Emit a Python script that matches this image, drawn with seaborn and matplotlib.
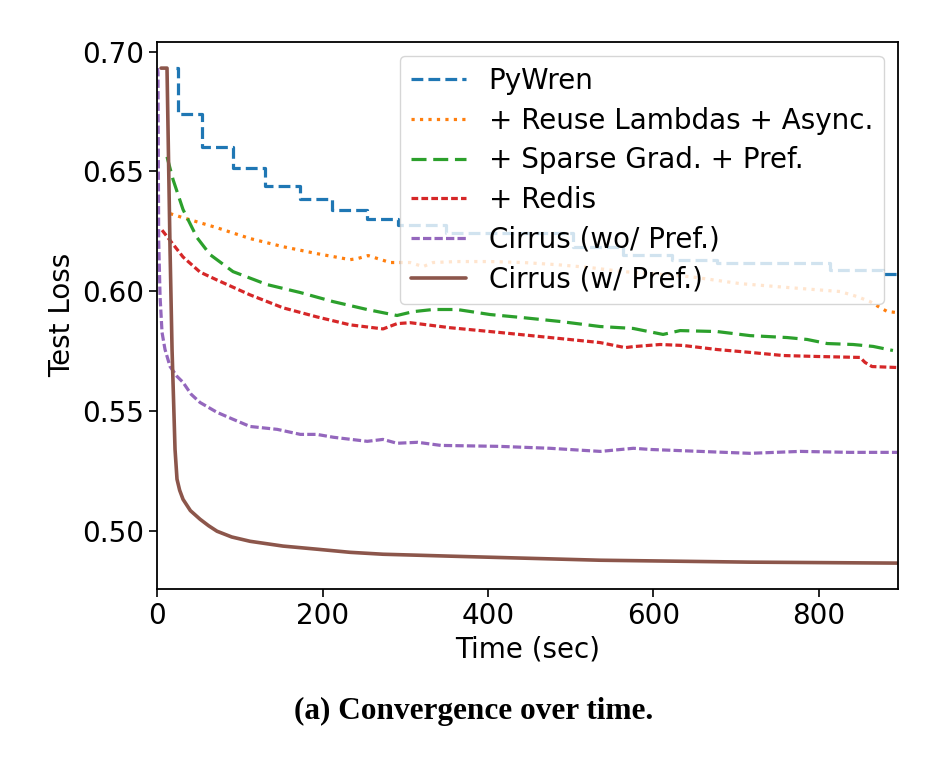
import matplotlib
matplotlib.use("Agg")
import matplotlib.pyplot as plt
import seaborn as sns

# values (time in sec, test loss)
pywren_t = [22.6, 25, 54, 91.6, 130.3, 172.7, 211.4, 253.7, 291.2, 349.3, 503, 563.4, 622.7, 677, 813.8, 878, 896]
pywren_loss = [0.6931, 0.6740, 0.6603, 0.6515, 0.6440, 0.6386, 0.6340, 0.6303, 0.6278, 0.6245, 0.6186, 0.6153,
               0.6132, 0.6120, 0.6087, 0.6074, 0.6074]

reuse_t = [15.4, 31.1, 72.2, 112.2, 152.1, 193.2, 233.2, 241.7, 255, 281.6, 305.8, 321.5, 333.6, 362.6, 402.6,
           442.5, 483.6, 523.5, 563.5, 596.2, 644.6, 705, 765.5, 826, 846.6, 862.3, 874.4, 882.9, 895]
reuse_loss = [0.6324, 0.6307, 0.6265, 0.6220, 0.6186, 0.6157, 0.6132, 0.6136, 0.6149, 0.6120, 0.6120, 0.6103,
              0.6120, 0.6124, 0.6124, 0.6120, 0.6111, 0.6099, 0.6082, 0.6074, 0.6061, 0.6032, 0.6015, 0.5999,
              0.5978, 0.5957, 0.5932, 0.5916, 0.5911]

sparse_t = [11.7, 19, 31.1, 48, 63.8, 91.6, 132.7, 172.7, 212.6, 253.7, 290, 309.4, 333.6, 362.6, 402.6, 442.5,
            487.3, 535.7, 575.6, 611.9, 632.5, 677.2, 717.2, 762, 786.2, 810.4, 841.8, 866, 890]
sparse_loss = [0.6561, 0.6466, 0.6341, 0.6224, 0.6153, 0.6082, 0.6028, 0.5995, 0.5957, 0.5924, 0.5899, 0.5915,
               0.5924, 0.5924, 0.5903, 0.5890, 0.5874, 0.5853, 0.5845, 0.5820, 0.5836, 0.5832, 0.5815, 0.5807,
               0.5799, 0.5782, 0.5778, 0.5770, 0.5753]

redis_t = [5.7, 31.1, 51.7, 72.2, 112.2, 152.1, 193.2, 233.2, 273.1, 290, 305.8, 354.2, 414.7, 475.2, 535.7, 566,
           575.6, 608.3, 636.1, 677.2, 717.2, 757.1, 798.2, 850.2, 856.3, 864.7, 895]
redis_loss = [0.6255, 0.6143, 0.6080, 0.6047, 0.5985, 0.5931, 0.5893, 0.5860, 0.5843, 0.5865, 0.5869, 0.5848,
              0.5828, 0.5807, 0.5786, 0.5765, 0.5769, 0.5778, 0.5774, 0.5757, 0.5745, 0.5732, 0.5728, 0.5724,
              0.5703, 0.5686, 0.5682]

cirrus_nopref_t = [0.2, 0.8, 1.6, 3.3, 5.7, 9.3, 15.4, 23.8, 31.1, 41, 51.7, 72.2, 91.6, 112.2, 145, 173, 193, 213,
                   254, 273, 290, 315, 343, 414, 475, 536, 576, 597, 657, 717, 778, 838, 895]
cirrus_nopref_loss = [0.6931, 0.6911, 0.6215, 0.5978, 0.5828, 0.5757, 0.5686, 0.5645, 0.5620, 0.5570, 0.5536,
                      0.5495, 0.5466, 0.5436, 0.5424, 0.5403, 0.5403, 0.5391, 0.5374, 0.5382, 0.5366, 0.5370,
                      0.5357, 0.5353, 0.5345, 0.5332, 0.5345, 0.5340, 0.5332, 0.5324, 0.5332, 0.5328, 0.5328]

cirrus_t = [4.5, 11.7, 15.4, 17.8, 21.4, 23.8, 27, 31.1, 40, 51.7, 62, 72.2, 90, 112.2, 152.1, 193.2, 233.2, 273.1,
            314.2, 354.2, 535.7, 717.2, 895]
cirrus_loss = [0.6931, 0.6931, 0.6170, 0.5757, 0.5341, 0.5216, 0.5170, 0.5132, 0.5085, 0.5049, 0.5022, 0.4999,
               0.4975, 0.4957, 0.4937, 0.4924, 0.4911, 0.4903, 0.4899, 0.4895, 0.4878, 0.4870, 0.4866]

sns.set_style("ticks")
plt.rcParams['font.family'] = ['DejaVu Sans']
plt.rcParams['font.size'] = 20
plt.rcParams['text.color'] = 'black'
plt.rcParams['axes.labelcolor'] = 'black'
plt.rcParams['xtick.color'] = 'black'
plt.rcParams['ytick.color'] = 'black'

fig = plt.figure(figsize=(9.41, 7.69), dpi=100)
ax = fig.add_axes([0.1672, 0.2347, 0.787, 0.7107])

lw = 2.3
sns.lineplot(x=pywren_t, y=pywren_loss, ax=ax, color='#1f77b4', linewidth=lw,
             linestyle='--', drawstyle='steps-post', label='PyWren')
sns.lineplot(x=reuse_t, y=reuse_loss, ax=ax, color='#ff7f0e', linewidth=lw,
             linestyle=':', label='+ Reuse Lambdas + Async.')
sns.lineplot(x=sparse_t, y=sparse_loss, ax=ax, color='#2ca02c', linewidth=lw,
             linestyle=(0, (4.7, 2.1)), label='+ Sparse Grad. + Pref.')
sns.lineplot(x=redis_t, y=redis_loss, ax=ax, color='#d62728', linewidth=lw,
             linestyle=(0, (2.1, 1.0)), label='+ Redis')
sns.lineplot(x=cirrus_nopref_t, y=cirrus_nopref_loss, ax=ax, color='#9467bd', linewidth=lw,
             linestyle=(0, (2.6, 1.0)), label='Cirrus (wo/ Pref.)')
sns.lineplot(x=cirrus_t, y=cirrus_loss, ax=ax, color='#8c564b', linewidth=2.6,
             linestyle='-', label='Cirrus (w/ Pref.)')

ax.set_xlim(0, 896)
ax.set_ylim(0.476, 0.704)
ax.set_yticks([0.50, 0.55, 0.60, 0.65, 0.70])
ax.set_xticks([0, 200, 400, 600, 800])
ax.set_xlabel('Time (sec)', fontsize=20)
ax.set_ylabel('Test Loss', fontsize=20)
ax.tick_params(labelsize=20, length=6, width=1.2, colors='black')
for s in ax.spines.values():
    s.set_linewidth(1.3)
    s.set_color('black')

ax.legend(loc='upper right', fontsize=20, handlelength=2.0, framealpha=0.8, labelspacing=0.42)

fig.text(0.503, 0.075, '(a) Convergence over time.', ha='center', va='center',
         fontsize=22.5, fontweight='bold', family='Liberation Serif')

fig.savefig('out.png', dpi=100)
